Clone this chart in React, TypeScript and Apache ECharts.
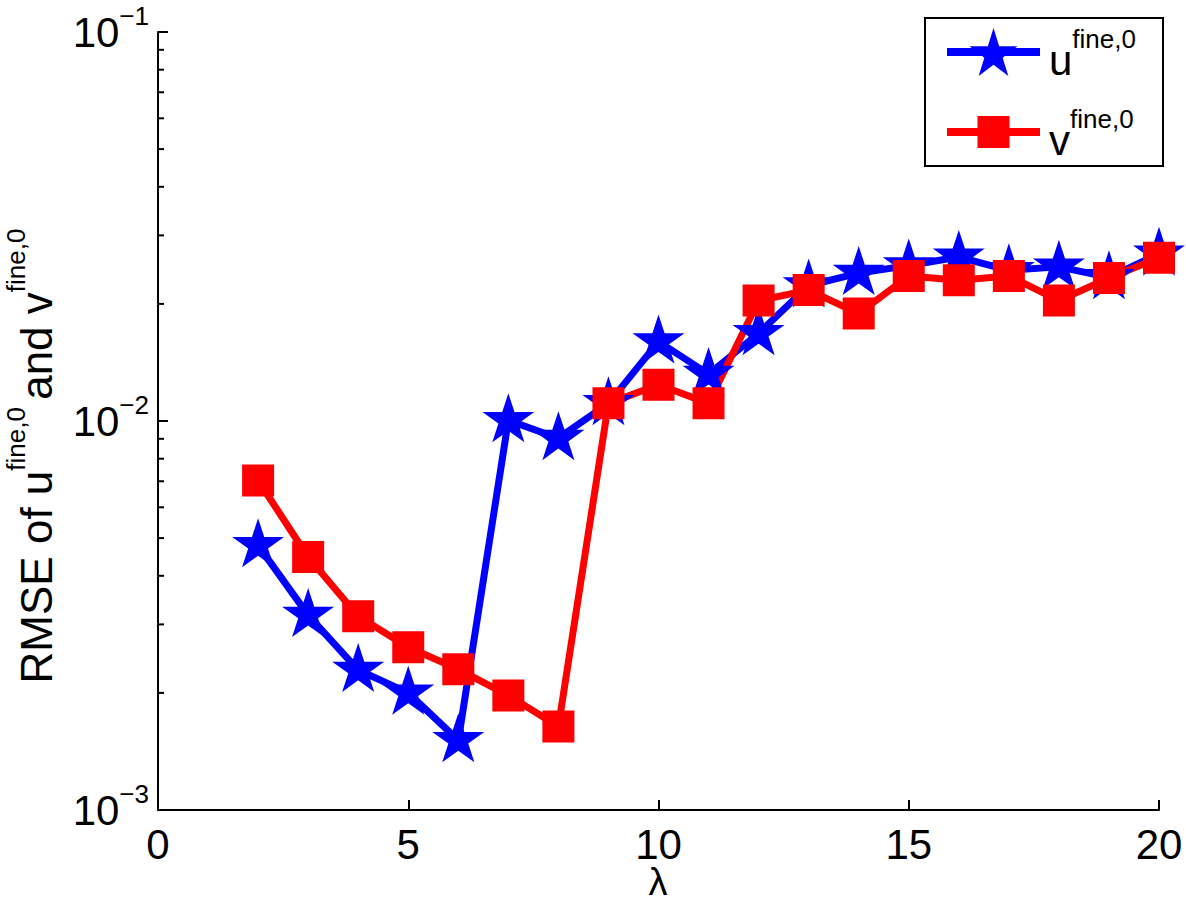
import React, { useEffect, useRef } from "react";
import * as echarts from "echarts";

const LAMBDA = [2, 3, 4, 5, 6, 7, 8, 9, 10, 11, 12, 13, 14, 15, 16, 17, 18, 19, 20];
const U_FINE = [0.00479, 0.00317, 0.00229, 0.002, 0.00151, 0.01004, 0.00903, 0.0111, 0.016, 0.0132, 0.0168, 0.0223, 0.024, 0.0251, 0.0264, 0.0244, 0.0249, 0.0234, 0.0269];
const V_FINE = [0.00703, 0.00447, 0.00315, 0.00262, 0.0023, 0.00197, 0.00164, 0.0111, 0.0124, 0.0111, 0.0204, 0.0217, 0.0189, 0.0236, 0.023, 0.0236, 0.0204, 0.0233, 0.0263];
const MINOR_TICKS = [0.002, 0.003, 0.004, 0.005, 0.006, 0.007, 0.008, 0.009, 0.02, 0.03, 0.04, 0.05, 0.06, 0.07, 0.08, 0.09];
const SERIES_NAMES = ["u", "v"];
const X_TITLE = "λ";

const FONT = "'Liberation Sans', Arial, Helvetica, sans-serif";
const STAR =
  "path://M0,-1 L0.2245,-0.309 L0.951,-0.309 L0.363,0.118 L0.588,0.809 L0,0.382 L-0.588,0.809 L-0.363,0.118 L-0.951,-0.309 L-0.2245,-0.309 Z";

const BLUE = "#0000ff";
const RED = "#ff0000";

export default function App() {
  const ref = useRef<HTMLDivElement>(null);
  useEffect(() => {
    if (!ref.current) return;
    const chart = echarts.init(ref.current, null, { renderer: "svg" });
    const tickRich = {
      m: { fontSize: 42, fontFamily: FONT, color: "#000" },
      s: { fontSize: 26, fontFamily: FONT, color: "#000", padding: [0, 0, 33, 0], verticalAlign: "middle" },
    };
    const titleRich = {
      m: { fontSize: 44, fontFamily: FONT, color: "#000" },
      s: { fontSize: 26, fontFamily: FONT, color: "#000", padding: [0, 0, 40, 0], verticalAlign: "middle" },
    };
    const legendRich = {
      m: { fontSize: 42, fontFamily: FONT, color: "#000", padding: [17, 0, 0, 4], verticalAlign: "middle" },
      s: { fontSize: 26, fontFamily: FONT, color: "#000", padding: [0, 0, 26, 0], verticalAlign: "middle" },
    };
    const legendCommon = {
      orient: "vertical",
      left: 943,
      padding: 0,
      itemWidth: 93,
      formatter: (name: string) => `{m|${name}}{s|fine,0}`,
      textStyle: { rich: legendRich },
      lineStyle: { width: 8 },
      selectedMode: false,
    };
    chart.setOption({
      animation: false,
      backgroundColor: "#fff",
      grid: { left: 158, right: 27, top: 32, bottom: 94, containLabel: false, outerBoundsMode: "none" },
      graphic: [
        {
          type: "rect",
          shape: { x: 925, y: 18, width: 238, height: 148 },
          style: { fill: "#fff", stroke: "#000", lineWidth: 2 },
          z: 0,
        },
        {
          type: "text",
          x: 658,
          y: 882,
          style: {
            text: X_TITLE,
            fontSize: 38,
            fontFamily: FONT,
            fill: "#000",
            align: "center",
            verticalAlign: "middle",
          },
        },
      ],
      legend: [
        { ...legendCommon, top: 26, itemHeight: 60, data: [SERIES_NAMES[0]] },
        { ...legendCommon, top: 106, itemHeight: 40, data: [SERIES_NAMES[1]] },
      ],
      xAxis: {
        type: "value",
        min: 0,
        max: 20,
        interval: 5,
        axisLine: { lineStyle: { color: "#000", width: 2 } },
        axisTick: { inside: true, length: 10, lineStyle: { color: "#000", width: 2 } },
        axisLabel: { fontSize: 42, lineHeight: 36, fontFamily: FONT, color: "#000", margin: 16 },
        splitLine: { show: false },
      },
      yAxis: {
        type: "log",
        logBase: 10,
        min: 0.001,
        max: 0.1,
        name: "{m|RMSE of u}{s|fine,0 }{m|and v}{s|fine,0}",
        nameLocation: "middle",
        nameRotate: 90,
        nameGap: 89,
        nameMoveOverlap: false,
        nameTextStyle: { rich: titleRich, padding: [0, 70, 0, 0] },
        axisLine: { lineStyle: { color: "#000", width: 2 } },
        axisTick: { inside: true, length: 10, lineStyle: { color: "#000", width: 2 } },
        axisLabel: {
          margin: 9,
          formatter: (v: number) => {
            const e = Math.round(Math.log10(v));
            return `{m|10}{s|${e < 0 ? "−" : ""}${Math.abs(e)}}`;
          },
          rich: tickRich,
        },
        splitLine: { show: false },
      },
      series: [
        {
          name: SERIES_NAMES[0],
          type: "line",
          data: LAMBDA.map((x, i) => [x, U_FINE[i]]),
          symbol: STAR,
          symbolSize: [52, 49],
          symbolOffset: [0, -2.6],
          showAllSymbol: true,
          color: BLUE,
          itemStyle: { color: BLUE },
          lineStyle: { color: BLUE, width: 7 },
        },
        {
          name: SERIES_NAMES[1],
          type: "line",
          data: LAMBDA.map((x, i) => [x, V_FINE[i]]),
          symbol: "rect",
          symbolSize: 32,
          showAllSymbol: true,
          color: RED,
          itemStyle: { color: RED },
          lineStyle: { color: RED, width: 7 },
        },
        {
          name: "minorTicks",
          type: "custom",
          silent: true,
          data: MINOR_TICKS.map((v) => [0, v]),
          encode: { x: 0, y: 1 },
          renderItem: (params: any, api: any) => {
            const p = api.coord([api.value(0), api.value(1)]);
            return {
              type: "line",
              shape: { x1: p[0], y1: p[1], x2: p[0] + 6, y2: p[1] },
              style: { stroke: "#000", lineWidth: 2 },
            };
          },
        },
      ],
    });
    return () => chart.dispose();
  }, []);
  return (
    <div
      ref={ref}
      style={{ position: "absolute", left: 0, top: 0, width: 1186, height: 904 }}
    />
  );
}
